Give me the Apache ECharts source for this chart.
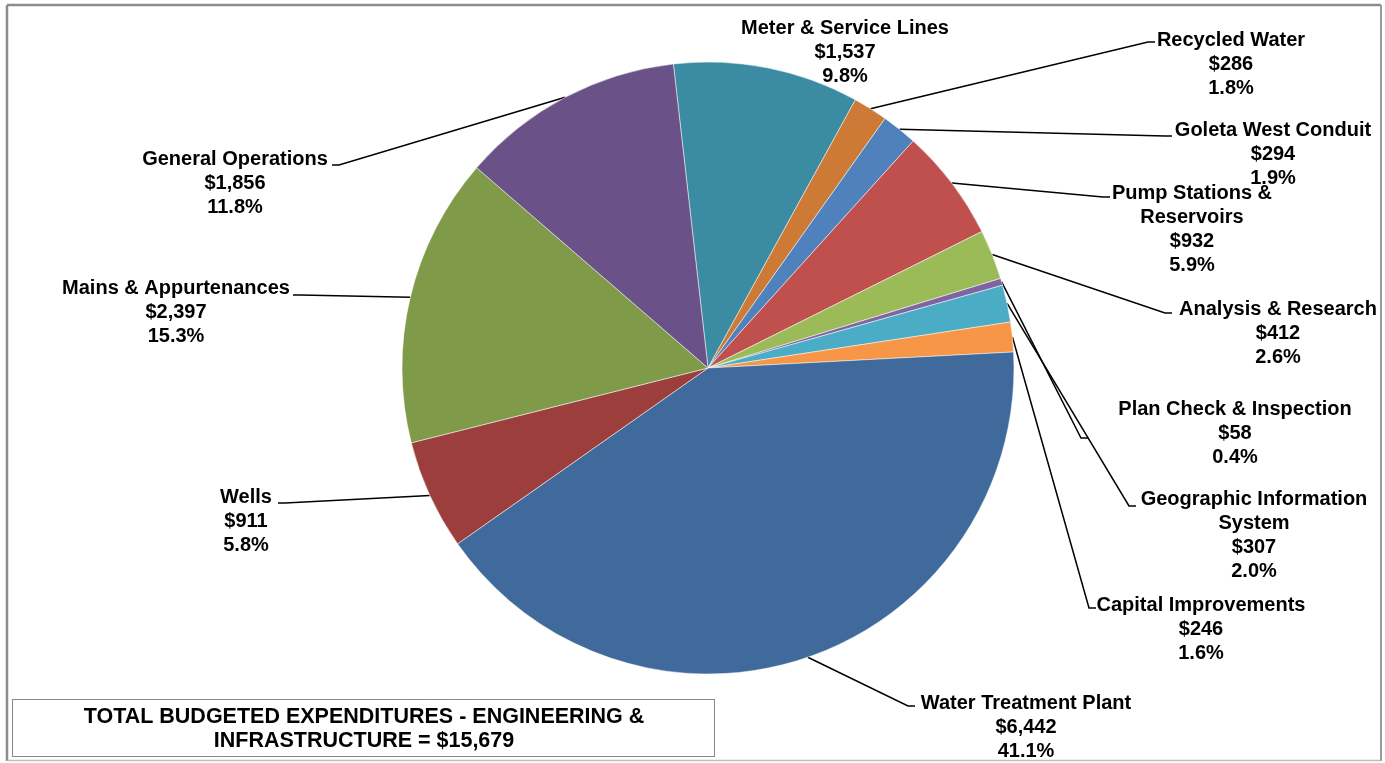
<!DOCTYPE html>
<html><head><meta charset="utf-8">
<script src="https://cdn.jsdelivr.net/npm/echarts@6/dist/echarts.min.js"></script>
<style>html,body{margin:0;padding:0;background:#fff}#c{width:1385px;height:763px}</style>
</head><body><div id="c"></div>
<script>
// ---- data ----
const categories = ['Meter & Service Lines','Recycled Water','Goleta West Conduit','Pump Stations &\nReservoirs','Analysis & Research','Plan Check & Inspection','Geographic Information\nSystem','Capital Improvements','Water Treatment Plant','Wells','Mains & Appurtenances','General Operations'];
const amounts = [1537,286,294,932,412,58,307,246,6442,911,2397,1856];
const totalBudget = 15679;
const totalTitle = 'TOTAL BUDGETED EXPENDITURES - ENGINEERING &\nINFRASTRUCTURE = ';

// ---- styles / layout ----
const sliceColors = ['#3B8BA3','#CC7A36','#4F81BD','#C0504D','#9BBB59','#8064A2','#4BACC6','#F79646','#3F6A9B','#9B3E3C','#7F9A48','#6A5187'];
const labelCenters = [[845,28],[1231,40],[1273,130],[1192,193],[1278,309],[1235,409],[1254,499],[1201,605],[1026,703],[246,497],[176,288],[235,159]];
const leaderEnds = [null,[1155,42],[1172,136],[1110,197],[1172,313],[1088,438],[1136,506],[1096,608],[915,706],[278,503],[293,295],[332,165]];
const FONT = '"Liberation Sans", Arial, sans-serif';

const sum = amounts.reduce((a,b)=>a+b,0);
const fmt = v => '$' + v.toLocaleString('en-US');

const data = categories.map((n,i)=>{
  const d = { name: n, value: amounts[i], itemStyle: { color: sliceColors[i] } };
  if (!leaderEnds[i]) d.labelLine = { show: false };
  return d;
});

const chart = echarts.init(document.getElementById('c'), null, { renderer: 'canvas' });
chart.setOption({
  animation: false,
  backgroundColor: '#fff',
  graphic: [
    { type: 'line', shape: { x1: 7, y1: 5, x2: 1381, y2: 5 }, style: { stroke: '#8c8c8c', lineWidth: 2.5 } },
    { type: 'line', shape: { x1: 7, y1: 5, x2: 7, y2: 761 }, style: { stroke: '#8c8c8c', lineWidth: 2.5 } },
    { type: 'line', shape: { x1: 1381, y1: 5, x2: 1381, y2: 761 }, style: { stroke: '#9a9a9a', lineWidth: 2 } },
    { type: 'line', shape: { x1: 7, y1: 760.5, x2: 1381, y2: 760.5 }, style: { stroke: '#bdbdbd', lineWidth: 1.5 } },
    { type: 'rect', shape: { x: 12.5, y: 699.5, width: 702, height: 57 }, style: { fill: '#fff', stroke: '#111', lineWidth: 1, lineDash: [1, 1] } },
    { type: 'text', x: 364, y: 729, style: { text: totalTitle + fmt(totalBudget), align: 'center', verticalAlign: 'middle', fontSize: 21.5, fontWeight: 'bold', fontFamily: FONT, lineHeight: 24, fill: '#000' } }
  ],
  series: [{
    type: 'pie',
    center: [708, 368],
    radius: 306,
    startAngle: 96.5,
    clockwise: true,
    avoidLabelOverlap: false,
    itemStyle: { borderColor: '#ffffff', borderWidth: 0.5 },
    label: {
      show: true,
      position: 'outside',
      color: '#000',
      fontSize: 20,
      fontWeight: 'bold',
      fontFamily: FONT,
      lineHeight: 24,
      align: 'center',
      formatter: p => p.name + '\n' + fmt(p.value) + '\n' + (p.value / sum * 100).toFixed(1) + '%'
    },
    labelLine: { show: true, length: 10, length2: 10, lineStyle: { color: '#000', width: 1.5 } },
    labelLayout: function (p) {
      const i = p.dataIndex;
      const c = labelCenters[i];
      const out = { x: c[0], y: c[1] - 12, align: 'center', verticalAlign: 'top' };
      const e = leaderEnds[i];
      if (e && p.labelLinePoints) {
        const p0 = p.labelLinePoints[0];
        const dir = e[0] > p0[0] ? -1 : 1;
        out.labelLinePoints = [p0, [e[0] + dir * 7, e[1]], e];
      }
      return out;
    },
    emphasis: { disabled: true },
    data: data
  }]
});
</script></body></html>
